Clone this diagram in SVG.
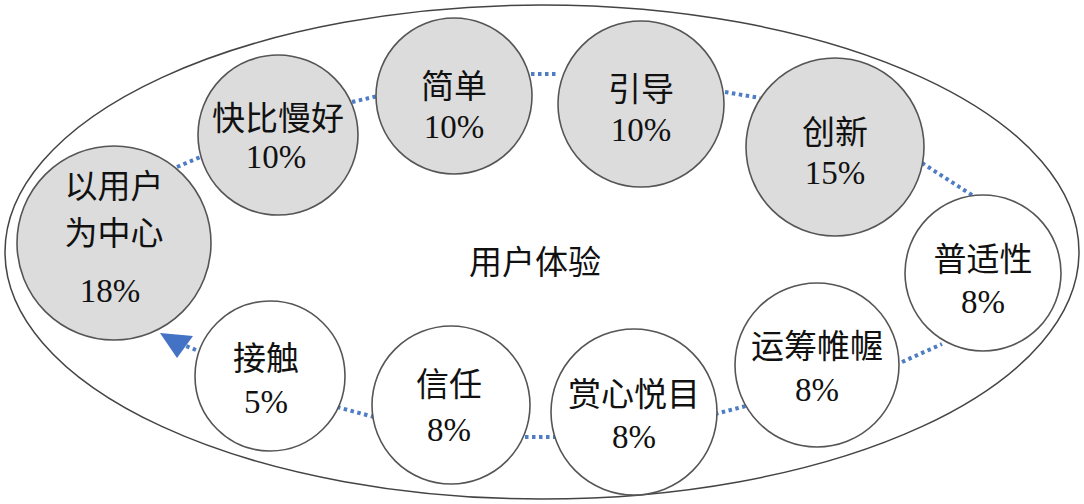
<svg xmlns="http://www.w3.org/2000/svg" width="1084" height="504" viewBox="0 0 1084 504">
<style>
.n{stroke:#555;stroke-width:1.6}
.g{fill:#dcdcdc}
.w{fill:#fff}
.t{font-family:"Liberation Serif","Noto Sans CJK SC",serif;font-size:33px;fill:#111;text-anchor:middle}
.c{stroke:#4f7dc4;stroke-width:4;stroke-dasharray:3.5 3.5;fill:none}
</style>
<rect width="1084" height="504" fill="#fff"/>
<ellipse cx="542" cy="252" rx="537" ry="247" fill="#fff" stroke="#444" stroke-width="1.5"/>
<g id="connectors">
<line class="c" x1="177" y1="167" x2="205" y2="155"/>
<line class="c" x1="352" y1="102" x2="378" y2="96"/>
<line class="c" x1="531" y1="74" x2="558" y2="74"/>
<line class="c" x1="725" y1="92" x2="760" y2="98"/>
<line class="c" x1="922" y1="163" x2="975" y2="197"/>
<line class="c" x1="902" y1="362" x2="942" y2="344"/>
<line class="c" x1="715" y1="414" x2="746" y2="406"/>
<line class="c" x1="518" y1="437" x2="556" y2="437"/>
<line class="c" x1="337" y1="407" x2="374" y2="417"/>
<line class="c" x1="196" y1="350" x2="186" y2="346"/>
<path d="M160,333 L193,336 L177,358 z" fill="#4472c4"/>
</g>
<g id="n1"><circle class="n g" cx="114" cy="243" r="97"/><text class="t" x="114" y="198">以用户</text><text class="t" x="114" y="245">为中心</text><text class="t" x="110" y="302">18%</text></g>
<g id="n2"><circle class="n g" cx="278" cy="135" r="80"/><text class="t" x="278" y="130">快比慢好</text><text class="t" x="276" y="168">10%</text></g>
<g id="n3"><circle class="n g" cx="454" cy="96" r="78"/><text class="t" x="454" y="98">简单</text><text class="t" x="454" y="138">10%</text></g>
<g id="n4"><circle class="n g" cx="641" cy="104" r="83"/><text class="t" x="641" y="101">引导</text><text class="t" x="641" y="141">10%</text></g>
<g id="n5"><circle class="n g" cx="835" cy="147" r="89"/><text class="t" x="835" y="144">创新</text><text class="t" x="835" y="184">15%</text></g>
<g id="n6"><circle class="n w" cx="983" cy="273" r="78"/><text class="t" x="983" y="271">普适性</text><text class="t" x="983" y="313">8%</text></g>
<g id="n7"><circle class="n w" cx="817" cy="365" r="82"/><text class="t" x="817" y="358">运筹帷幄</text><text class="t" x="817" y="401">8%</text></g>
<g id="n8"><circle class="n w" cx="634" cy="412" r="83"/><text class="t" x="634" y="406">赏心悦目</text><text class="t" x="634" y="448">8%</text></g>
<g id="n9"><circle class="n w" cx="451" cy="405" r="79"/><text class="t" x="449" y="396">信任</text><text class="t" x="449" y="441">8%</text></g>
<g id="n10"><circle class="n w" cx="270" cy="376" r="75"/><text class="t" x="266" y="370">接触</text><text class="t" x="266" y="413">5%</text></g>
<text class="t" x="535" y="274">用户体验</text>
</svg>
